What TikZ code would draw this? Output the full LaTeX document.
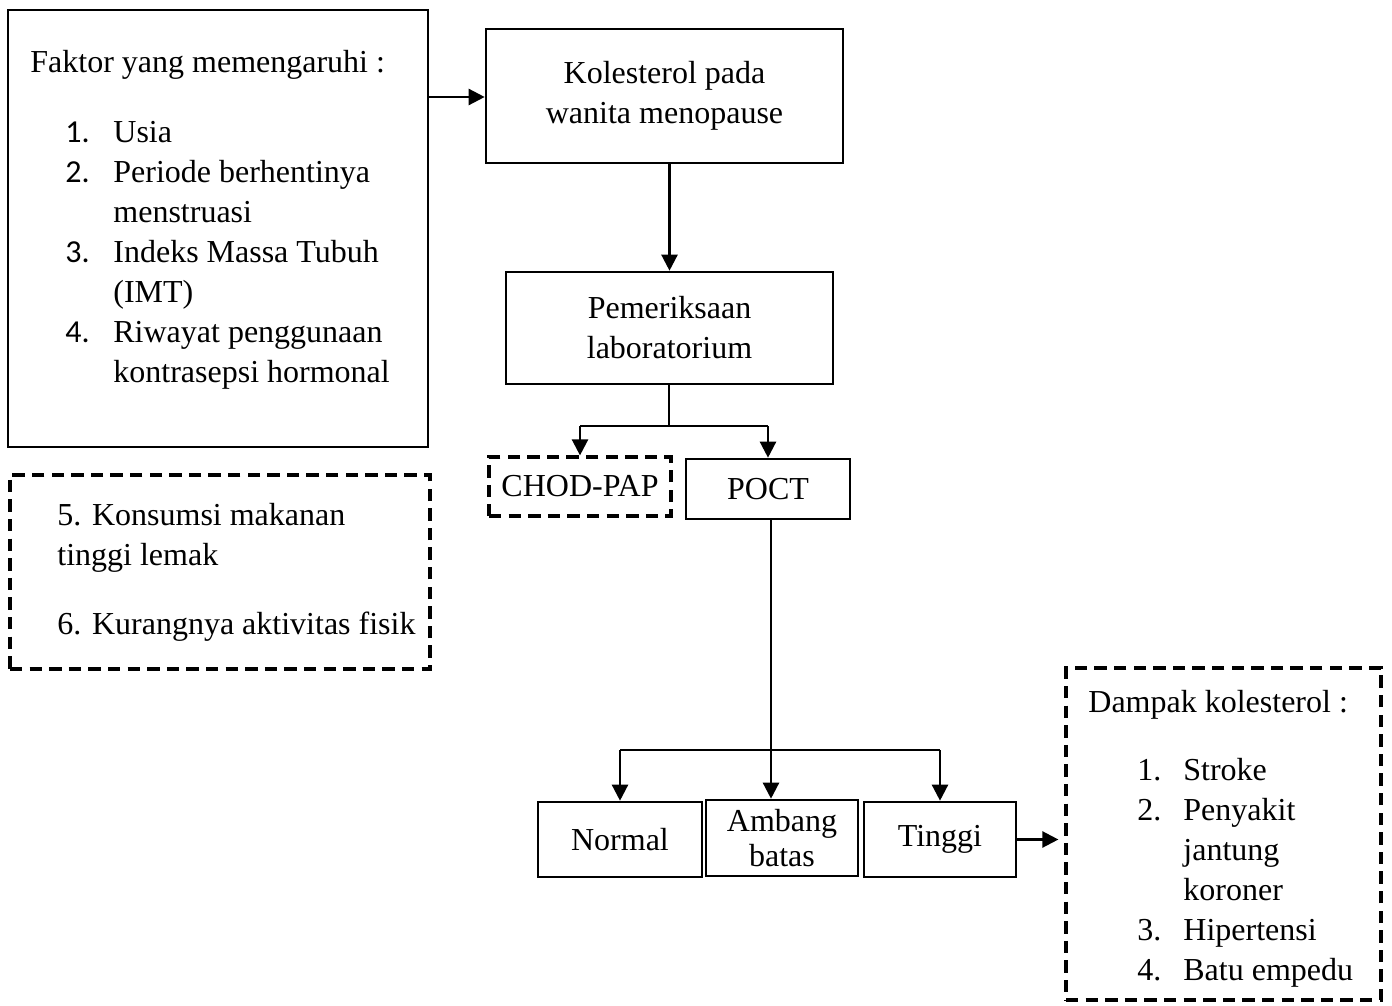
\documentclass[tikz,border=0pt]{standalone}
\usepackage{fontspec}
\setmainfont{Liberation Serif}
\newfontfamily\numfont{Carlito}
\usetikzlibrary{arrows.meta}
\tikzset{
  box/.style={draw, line width=1.3pt, inner sep=0pt, align=center,
    font=\fontsize{16}{20}\selectfont},
  dbox/.style={box, line width=1.6pt, dash pattern=on 6.2pt off 3.6pt},
  txt/.style={inner sep=0pt, align=left, font=\fontsize{16}{20}\selectfont},
  arr/.style={-{Triangle[length=8pt,width=8pt]}, line width=1.2pt},
  conn/.style={line width=0.7pt}
}
\begin{document}
\begin{tikzpicture}[x=0.5pt,y=-0.5pt]
\useasboundingbox (0,0) rectangle (1392,1006);

% boxes
\node[box, minimum width=210pt, minimum height=218.5pt] (fak) at (218,228.5) {};
\node[dbox, minimum width=210pt, minimum height=97pt] (fak2) at (220,572) {};
\node[box, minimum width=178.5pt, minimum height=67pt] (kol) at (664.5,96)
  {Kolesterol pada\\wanita menopause};
\node[box, minimum width=163.5pt, minimum height=56pt] (pem) at (669.5,328)
  {Pemeriksaan\\laboratorium};
\node[dbox, minimum width=91pt, minimum height=29.5pt] (chod) at (580,486.5) {CHOD-PAP};
\node[box, minimum width=82pt, minimum height=30pt] (poct) at (768,489) {POCT};
\node[box, minimum width=82pt, minimum height=37.5pt] (nor) at (620,839.5) {Normal};
\node[box, minimum width=76pt, minimum height=38pt,
  font=\fontsize{16}{17.5}\selectfont] (amb) at (782,838) {Ambang\\batas};
\node[box, minimum width=76pt, minimum height=37.5pt] (tin) at (940,839.5) {Tinggi};
\node[dbox, minimum width=157.5pt, minimum height=166pt] (dam) at (1223.5,834) {};

% texts inside list boxes
\node[txt, anchor=base west] (faktxt) at (30,73) {%
\begin{tabular}[t]{@{}p{41.5pt}@{}l@{}}
\multicolumn{2}{@{}l@{}}{Faktor yang memengaruhi :}\\[15pt]
\hspace*{17.5pt}{\numfont 1.} & Usia\\
\hspace*{17.5pt}{\numfont 2.} & Periode berhentinya\\
 & menstruasi\\
\hspace*{17.5pt}{\numfont 3.} & Indeks Massa Tubuh\\
 & (IMT)\\
\hspace*{17.5pt}{\numfont 4.} & Riwayat penggunaan\\
 & kontrasepsi hormonal
\end{tabular}};

\node[txt, anchor=base west] (fak2txt) at (57,525) {%
\begin{tabular}[t]{@{}l@{}}
5. Konsumsi makanan\\
tinggi lemak\\[14.5pt]
6. Kurangnya aktivitas fisik
\end{tabular}};

\node[txt, anchor=base west] (damtxt) at (1088,712) {%
\begin{tabular}[t]{@{}p{47.5pt}@{}l@{}}
\multicolumn{2}{@{}l@{}}{Dampak kolesterol :}\\[14pt]
\hspace*{24.5pt}1. & Stroke\\
\hspace*{24.5pt}2. & Penyakit\\
 & jantung\\
 & koroner\\
\hspace*{24.5pt}3. & Hipertensi\\
\hspace*{24.5pt}4. & Batu empedu
\end{tabular}};

% connectors
\draw[arr] (fak.east |- 0,97) -- (kol.west |- 0,97);
\draw[arr] (pem.north |- kol.south) -- (pem.north);

\coordinate (b1) at (669,426);
\draw[conn] (pem.south -| b1) -- (b1);
\draw[conn] (chod.north |- b1) -- (poct.north |- b1);
\draw[arr] (chod.north |- b1) -- (chod.north);
\draw[arr] (poct.north |- b1) -- (poct.north);

\coordinate (b2) at (771,750);
\draw[conn] (poct.south -| b2) -- (b2);
\draw[conn] (nor.north |- b2) -- (tin.north |- b2);
\draw[arr] (nor.north |- b2) -- (nor.north);
\draw[arr] (b2) -- (b2 |- amb.north);
\draw[arr] (tin.north |- b2) -- (tin.north);

\draw[arr, shorten >=3pt] (tin.east) -- (tin.east -| dam.west);
\end{tikzpicture}
\end{document}
